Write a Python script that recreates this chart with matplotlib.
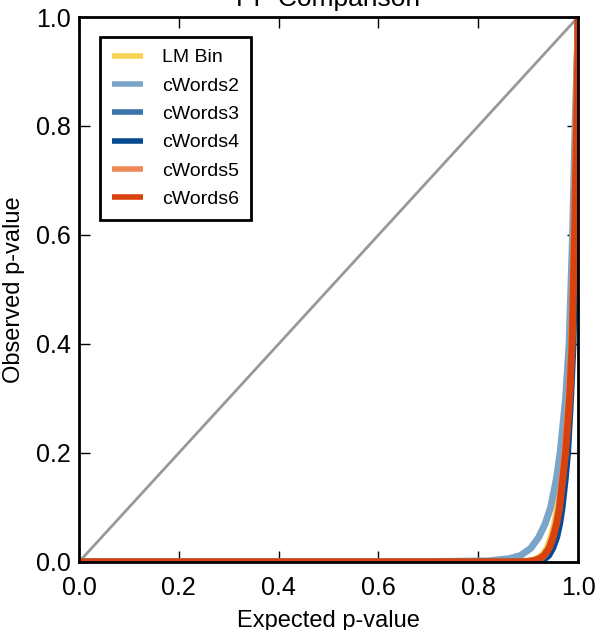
import matplotlib.pyplot as plt
import numpy as np

plt.rcParams['font.family'] = ['Liberation Sans', 'DejaVu Sans']

# Observed p-value levels (quantiles) and matching expected p-values per series
y_levels = [0.0, 0.0, 0.002, 0.006, 0.012, 0.025, 0.045, 0.07, 0.1, 0.15, 0.2, 0.3, 0.4, 0.6, 0.8, 0.95, 1.0]

x_lmbin = [0.0, 0.880, 0.905, 0.918, 0.928, 0.938, 0.946, 0.953, 0.959, 0.966, 0.972, 0.980, 0.986, 0.991, 0.995, 0.999, 1.0]
x_cw2   = [0.0, 0.650, 0.820, 0.862, 0.885, 0.905, 0.921, 0.934, 0.945, 0.956, 0.964, 0.975, 0.982, 0.989, 0.994, 0.999, 1.0]
x_cw3   = [0.0, 0.895, 0.915, 0.926, 0.935, 0.944, 0.952, 0.959, 0.965, 0.971, 0.976, 0.983, 0.988, 0.993, 0.997, 0.999, 1.0]
x_cw4   = [0.0, 0.900, 0.922, 0.933, 0.941, 0.949, 0.957, 0.963, 0.968, 0.974, 0.979, 0.985, 0.990, 0.994, 0.998, 1.0, 1.0]
x_cw5   = [0.0, 0.890, 0.912, 0.923, 0.932, 0.941, 0.949, 0.956, 0.962, 0.968, 0.974, 0.982, 0.987, 0.992, 0.996, 0.999, 1.0]
x_cw6   = [0.0, 0.885, 0.910, 0.922, 0.932, 0.942, 0.950, 0.957, 0.963, 0.969, 0.975, 0.983, 0.988, 0.993, 0.997, 1.0, 1.0]

labels = ['LM Bin', 'cWords2', 'cWords3', 'cWords4', 'cWords5', 'cWords6']
colors = ['#f5d350', '#7ba4c9', '#3b73ab', '#084a91', '#ee8a58', '#d8420e']
series = [x_lmbin, x_cw2, x_cw3, x_cw4, x_cw5, x_cw6]

fig = plt.figure(figsize=(5.97, 6.30), dpi=100)
ax = fig.add_axes([0.1323, 0.108, 0.836, 0.865])

# diagonal reference
ax.plot([0, 1], [0, 1], color='#999999', linewidth=2)

for xs, lab, col in zip(series, labels, colors):
    ax.plot(xs, y_levels, color=col, linewidth=5, label=lab, solid_capstyle='butt')

ax.set_xlim(0, 1)
ax.set_ylim(0, 1)
ax.set_xticks(np.arange(0, 1.01, 0.2))
ax.set_yticks(np.arange(0, 1.01, 0.2))
ax.tick_params(direction='in', length=8, width=1, labelsize=18, top=True, right=True)
ax.tick_params(axis='x', pad=10)
ax.tick_params(axis='y', pad=6)
for s in ax.spines.values():
    s.set_linewidth(2)

ax.set_title('PP Comparison', fontsize=19, pad=8)
ax.set_xlabel('Expected p-value', fontsize=17, labelpad=7)
ax.set_ylabel('Observed p-value', fontsize=17, labelpad=8)

leg = ax.legend(loc='upper left', fontsize=14, fancybox=False, handlelength=1.6,
                borderpad=0.6, labelspacing=0.55, handletextpad=1.0, borderaxespad=0,
                bbox_to_anchor=(0.042, 0.963), framealpha=1)
leg.get_frame().set_edgecolor('black')
leg.get_frame().set_linewidth(2)
for line in leg.get_lines():
    line.set_linewidth(4)

plt.savefig('out.png', dpi=100)
